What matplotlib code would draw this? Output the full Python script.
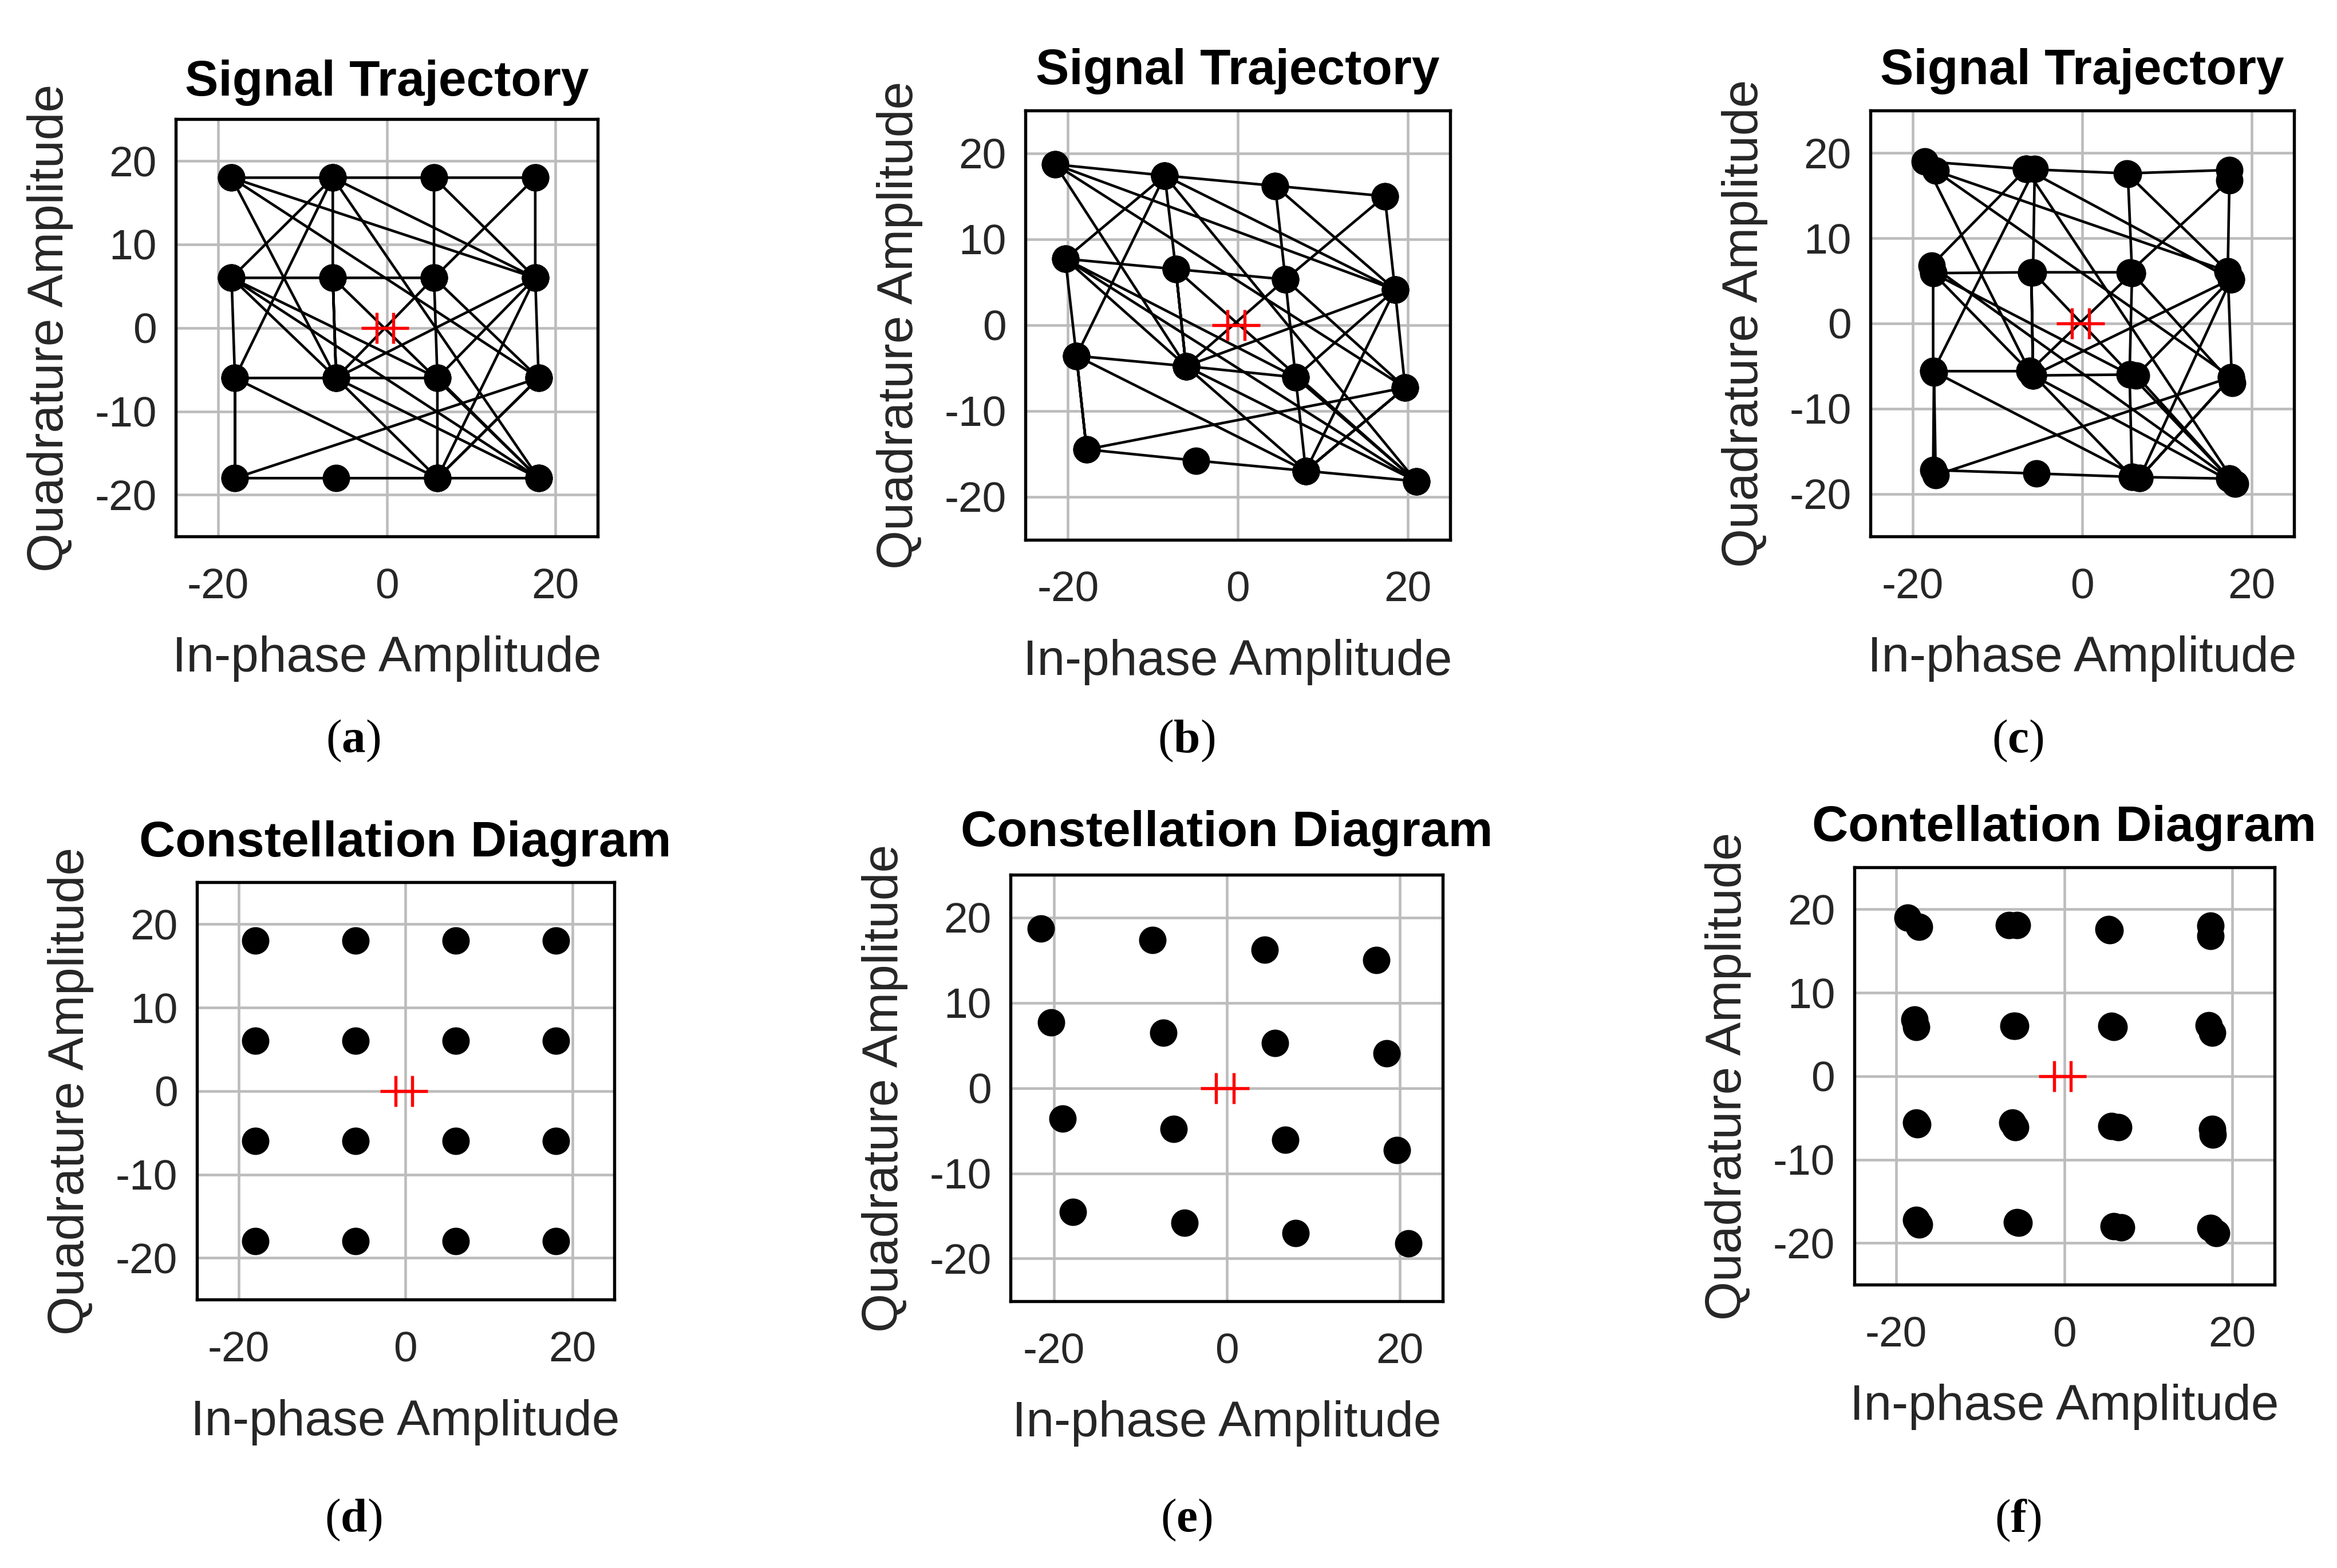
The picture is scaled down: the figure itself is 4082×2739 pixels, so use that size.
import matplotlib
matplotlib.use('Agg')
import matplotlib.pyplot as plt

plt.rcParams['font.family'] = ['Liberation Sans', 'DejaVu Sans']
plt.rcParams['axes.unicode_minus'] = False
plt.rcParams['mathtext.fontset'] = 'custom'
plt.rcParams['mathtext.rm'] = 'Liberation Serif'
plt.rcParams['mathtext.bf'] = 'Liberation Serif:bold'

# ---------------- data ----------------
# 16-QAM symbol positions (index = row*4 + col, row 0 = top, col 0 = left)
ideal_I = [-18.4, -6.4, 5.6, 17.6, -18.4, -6.4, 5.6, 17.6,
           -18.0, -6.0, 6.0, 18.0, -18.0, -6.0, 6.0, 18.0]
ideal_Q = [18.0, 18.0, 18.0, 18.0, 6.0, 6.0, 6.0, 6.0,
           -6.0, -6.0, -6.0, -6.0, -18.0, -18.0, -18.0, -18.0]

const_I = [-18.0, -6.0, 6.0, 18.0, -18.0, -6.0, 6.0, 18.0,
           -18.0, -6.0, 6.0, 18.0, -18.0, -6.0, 6.0, 18.0]
const_Q = [18.0, 18.0, 18.0, 18.0, 6.0, 6.0, 6.0, 6.0,
           -6.0, -6.0, -6.0, -6.0, -18.0, -18.0, -18.0, -18.0]

# IQ-imbalanced positions (panels b, e)
imb_I = [-21.5, -8.6, 4.4, 17.3, -20.3, -7.3, 5.6, 18.5,
         -19.0, -6.1, 6.8, 19.7, -17.8, -4.9, 8.0, 21.0]
imb_Q = [18.7, 17.4, 16.2, 15.0, 7.7, 6.5, 5.3, 4.1,
         -3.6, -4.8, -6.1, -7.3, -14.5, -15.8, -17.0, -18.2]

# compensated positions (panels c, f): two observed samples per symbol
comp_I0 = [-18.6, -6.6, 5.3, 17.4, -17.8, -6.0, 5.6, 17.2,
           -17.6, -6.2, 5.6, 17.6, -17.6, -5.6, 5.9, 17.4]
comp_Q0 = [19.0, 18.1, 17.6, 18.0, 6.8, 6.0, 6.0, 6.1,
           -5.6, -5.6, -6.0, -6.3, -17.2, -17.5, -18.0, -18.2]
comp_I1 = [-17.3, -5.6, 5.4, 17.4, -17.6, -5.8, 5.9, 17.6,
           -17.5, -5.8, 6.4, 17.7, -17.3, -5.4, 6.8, 18.1]
comp_Q1 = [17.9, 18.1, 17.5, 16.8, 5.9, 6.0, 5.9, 5.2,
           -5.8, -6.1, -6.1, -7.0, -17.8, -17.6, -18.1, -18.8]

# transmitted symbol sequence (indices into the arrays above)
symbol_seq = [3, 2, 1, 0, 9, 8, 4, 5, 6, 3, 7, 2, 6, 10, 9, 5, 9, 4, 10, 14,
              13, 12, 8, 12, 11, 14, 11, 0, 7, 11, 6, 9, 14, 15, 10, 7, 14, 8,
              1, 5, 15, 4, 1, 7, 9, 15, 1]
# which observed sample of the symbol was received in panel c
comp_sample = [0, 0, 0, 0, 0, 0, 1, 0, 0, 1, 0, 1, 1, 0, 1, 0, 1, 1, 0, 0,
               1, 0, 1, 1, 0, 1, 0, 1, 0, 1, 1, 0, 0, 0, 1, 1, 1, 0,
               1, 1, 0, 0, 0, 1, 1, 1, 0]

ref_I = [-1.2, 0.8]
ref_Q = [0.0, 0.0]

x_ticks = [-20, 0, 20]
y_ticks = [-20, -10, 0, 10, 20]

titles = ['Signal Trajectory', 'Signal Trajectory', 'Signal Trajectory',
          'Constellation Diagram', 'Constellation Diagram', 'Contellation Diagram']
captions = ['a', 'b', 'c', 'd', 'e', 'f']

# ---------------- layout ----------------
W, H = 1568.0, 1052.0
boxes = [(118, 401, 80, 360), (688, 973, 74, 362), (1255, 1539, 74, 360),
         (132, 412, 592, 872), (678, 968, 587, 873), (1244, 1526, 582, 862)]
title_pads = [10, 11, 11, 11, 12, 11]
cap_pos = [(237, 497), (796, 497), (1354, 497), (237, 1020), (796, 1020), (1354, 1020)]

fig = plt.figure(figsize=(4082 / 300, 2739 / 300), dpi=300)

axes = []
for (l, r, t, b) in boxes:
    ax = fig.add_axes([l / W, 1 - b / H, (r - l) / W, (b - t) / H])
    axes.append(ax)


def style(ax, title, pad):
    ax.set_xlim(-25, 25)
    ax.set_ylim(-25, 25)
    ax.set_xticks(x_ticks)
    ax.set_yticks(y_ticks)
    ax.grid(True, color='#bcbcbc', lw=1.1)
    ax.set_axisbelow(True)
    for s in ax.spines.values():
        s.set_linewidth(1.3)
        s.set_color('black')
    ax.tick_params(axis='both', length=0, labelsize=18, colors='#262626')
    ax.tick_params(axis='x', pad=13)
    ax.tick_params(axis='y', pad=8)
    ax.set_xlabel('In-phase Amplitude', fontsize=21, color='#262626', labelpad=12)
    ax.set_ylabel('Quadrature Amplitude', fontsize=21, color='#262626', labelpad=9)
    ax.set_title(title, fontsize=21, fontweight='bold', color='black', pad=pad)


def trajectory(ax, xs, ys):
    ax.plot(xs, ys, '-', color='black', lw=1.1, zorder=2)
    ax.plot(xs, ys, 'o', color='black', ms=10.5, zorder=3)


# panel a
xa = [ideal_I[k] for k in symbol_seq]
ya = [ideal_Q[k] for k in symbol_seq]
trajectory(axes[0], xa, ya)

# panel b
xb = [imb_I[k] for k in symbol_seq]
yb = [imb_Q[k] for k in symbol_seq]
trajectory(axes[1], xb, yb)

# panel c
xc = [(comp_I0 if s == 0 else comp_I1)[k] for k, s in zip(symbol_seq, comp_sample)]
yc = [(comp_Q0 if s == 0 else comp_Q1)[k] for k, s in zip(symbol_seq, comp_sample)]
trajectory(axes[2], xc, yc)

# panel d
axes[3].plot(const_I, const_Q, 'o', color='black', ms=10.5, zorder=3)
# panel e
axes[4].plot(imb_I, imb_Q, 'o', color='black', ms=10.5, zorder=3)
# panel f
axes[5].plot(comp_I0 + comp_I1, comp_Q0 + comp_Q1, 'o', color='black', ms=10.5, zorder=3)

for ax, t, p in zip(axes, titles, title_pads):
    ax.plot(ref_I, ref_Q, '+', color='red', ms=13, mew=1.3, zorder=4)
    style(ax, t, p)

for c, (cx, cy) in zip(captions, cap_pos):
    fig.text(cx / W, 1 - cy / H, r'($\mathbf{' + c + '}$)', ha='center', va='center',
             fontsize=20, family='Liberation Serif', color='black')

fig.savefig('out.png', dpi=300)
